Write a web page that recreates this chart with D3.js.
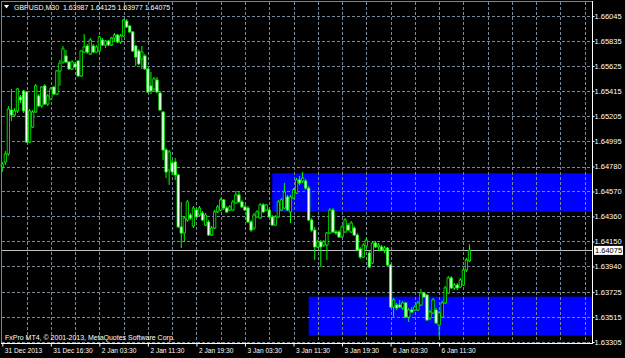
<!DOCTYPE html>
<html>
<head>
<meta charset="utf-8">
<script src="https://cdn.jsdelivr.net/npm/d3@7"></script>
<style>
html, body { margin: 0; padding: 0; background: #000; }
svg { display: block; }
text { font-family: "Liberation Sans", Arial, sans-serif; fill: #fff; }
</style>
</head>
<body>
<svg class="main" width="625" height="358"></svg>
<script>
var symbol = "GBPUSD,M30";

// M30 bars, oldest first
var opens = [
    1.64776,1.64818,1.64885,1.65255,1.65213,1.65247,1.65364,1.65415,1.65406,1.64986,
    1.65112,1.65238,1.65373,1.65289,1.65457,1.65305,1.65347,1.65448,1.65389,1.65583,
    1.65658,1.65709,1.65658,1.65600,1.65642,1.65667,1.65541,1.65742,1.65793,1.65726,
    1.65793,1.65742,1.65751,1.65843,1.65801,1.65835,1.65801,1.65860,1.65885,1.65826,
    1.65877,1.66003,1.65961,1.65911,1.65793,1.65751,1.65684,1.65709,1.65600,1.65457,
    1.65432,1.65507,1.65398,1.65238,1.64919,1.64751,1.64810,1.64818,1.64709,1.64272,
    1.64221,1.64330,1.64372,1.64280,1.64414,1.64372,1.64389,1.64288,1.64314,1.64204,
    1.64263,1.64398,1.64414,1.64499,1.64431,1.64414,1.64414,1.64473,1.64541,1.64482,
    1.64440,1.64431,1.64314,1.64263,1.64356,1.64347,1.64457,1.64414,1.64414,1.64356,
    1.64288,1.64356,1.64414,1.64431,1.64524,1.64398,1.64515,1.64557,1.64667,1.64658,
    1.64658,1.64599,1.64330,1.64246,1.64104,1.64146,1.64120,1.64120,1.64221,1.64414,
    1.64230,1.64230,1.64188,1.64230,1.64288,1.64230,1.64263,1.64204,1.64087,1.64019,
    1.64112,1.64053,1.63969,1.64137,1.64104,1.64104,1.64078,1.64095,1.63952,1.63599,
    1.63616,1.63616,1.63591,1.63633,1.63515,1.63574,1.63574,1.63574,1.63616,1.63717,
    1.63700,1.63507,1.63549,1.63574,1.63448,1.63515,1.63633,1.63717,1.63843,1.63759,
    1.63784,1.63767,1.63784,1.63910,1.63987
];
var highs = [
    1.64818,1.64910,1.65289,1.65432,1.65272,1.65440,1.65381,1.65423,1.65415,1.65263,
    1.65255,1.65474,1.65389,1.65457,1.65474,1.65389,1.65448,1.65457,1.65591,1.65675,
    1.65793,1.65759,1.65667,1.65675,1.65658,1.65675,1.65759,1.65894,1.65810,1.65860,
    1.65810,1.65801,1.65877,1.65860,1.65843,1.65843,1.65869,1.65902,1.65894,1.65894,
    1.66020,1.66020,1.65969,1.65919,1.65801,1.65768,1.65793,1.65726,1.65608,1.65574,
    1.65532,1.65532,1.65415,1.65247,1.64936,1.64919,1.64835,1.64852,1.64717,1.64482,
    1.64364,1.64499,1.64389,1.64448,1.64431,1.64448,1.64406,1.64389,1.64330,1.64280,
    1.64414,1.64457,1.64515,1.64507,1.64448,1.64457,1.64499,1.64574,1.64574,1.64499,
    1.64457,1.64448,1.64330,1.64389,1.64414,1.64473,1.64473,1.64465,1.64431,1.64372,
    1.64372,1.64499,1.64515,1.64641,1.64541,1.64541,1.64599,1.64683,1.64700,1.64734,
    1.64675,1.64616,1.64347,1.64272,1.64162,1.64162,1.64162,1.64230,1.64431,1.64431,
    1.64246,1.64246,1.64288,1.64347,1.64305,1.64322,1.64280,1.64221,1.64104,1.64137,
    1.64179,1.64070,1.64154,1.64154,1.64137,1.64120,1.64112,1.64104,1.63961,1.63675,
    1.63633,1.63658,1.63650,1.63641,1.63591,1.63599,1.63616,1.63650,1.63751,1.63725,
    1.63708,1.63574,1.63675,1.63591,1.63566,1.63650,1.63776,1.63860,1.63860,1.63801,
    1.63801,1.63843,1.63927,1.64011,1.64125
];
var lows = [
    1.64734,1.64793,1.64868,1.65163,1.65196,1.65230,1.65314,1.65230,1.64978,1.64978,
    1.65104,1.65230,1.65280,1.65272,1.65297,1.65289,1.65339,1.65381,1.65381,1.65457,
    1.65642,1.65650,1.65591,1.65591,1.65608,1.65532,1.65532,1.65734,1.65726,1.65717,
    1.65734,1.65734,1.65742,1.65793,1.65776,1.65793,1.65793,1.65835,1.65818,1.65810,
    1.65869,1.65944,1.65902,1.65742,1.65625,1.65633,1.65600,1.65591,1.65398,1.65389,
    1.65415,1.65398,1.65247,1.64835,1.64683,1.64625,1.64709,1.64667,1.64263,1.64095,
    1.64146,1.64314,1.64330,1.64263,1.64347,1.64364,1.64322,1.64280,1.64196,1.64196,
    1.64255,1.64389,1.64406,1.64414,1.64389,1.64406,1.64406,1.64465,1.64473,1.64431,
    1.64406,1.64305,1.64230,1.64246,1.64347,1.64339,1.64389,1.64406,1.64347,1.64280,
    1.64280,1.64347,1.64406,1.64423,1.64406,1.64305,1.64507,1.64549,1.64625,1.64641,
    1.64583,1.64322,1.64230,1.63994,1.64095,1.63935,1.64104,1.63994,1.64213,1.64221,
    1.64204,1.64179,1.64179,1.64221,1.64238,1.64221,1.64196,1.64070,1.64003,1.64011,
    1.64095,1.63927,1.63961,1.64095,1.64070,1.64070,1.64053,1.63944,1.63591,1.63515,
    1.63574,1.63591,1.63574,1.63507,1.63473,1.63549,1.63566,1.63566,1.63608,1.63675,
    1.63482,1.63490,1.63540,1.63456,1.63347,1.63507,1.63624,1.63708,1.63751,1.63742,
    1.63742,1.63759,1.63776,1.63893,1.63977
];
var closes = [
    1.64801,1.64885,1.65263,1.65213,1.65247,1.65432,1.65339,1.65247,1.64986,1.65247,
    1.65238,1.65457,1.65289,1.65448,1.65305,1.65373,1.65432,1.65389,1.65583,1.65650,
    1.65768,1.65658,1.65600,1.65658,1.65616,1.65541,1.65751,1.65784,1.65742,1.65843,
    1.65742,1.65784,1.65869,1.65801,1.65835,1.65801,1.65860,1.65885,1.65826,1.65877,
    1.66011,1.65953,1.65911,1.65751,1.65700,1.65642,1.65742,1.65600,1.65406,1.65415,
    1.65516,1.65406,1.65255,1.64919,1.64734,1.64902,1.64734,1.64709,1.64272,1.64221,
    1.64347,1.64482,1.64347,1.64431,1.64356,1.64431,1.64330,1.64372,1.64204,1.64263,
    1.64398,1.64440,1.64499,1.64431,1.64398,1.64440,1.64482,1.64541,1.64482,1.64440,
    1.64414,1.64314,1.64246,1.64372,1.64398,1.64457,1.64398,1.64457,1.64356,1.64288,
    1.64356,1.64482,1.64499,1.64566,1.64414,1.64524,1.64583,1.64667,1.64641,1.64683,
    1.64599,1.64330,1.64246,1.64104,1.64146,1.64104,1.64146,1.64221,1.64414,1.64230,
    1.64221,1.64188,1.64272,1.64330,1.64246,1.64305,1.64204,1.64078,1.64019,1.64120,
    1.64162,1.63935,1.64137,1.64104,1.64120,1.64078,1.64095,1.63952,1.63599,1.63658,
    1.63591,1.63599,1.63633,1.63515,1.63574,1.63557,1.63599,1.63633,1.63717,1.63683,
    1.63490,1.63557,1.63658,1.63465,1.63549,1.63633,1.63759,1.63843,1.63759,1.63784,
    1.63759,1.63826,1.63910,1.63994,1.64075
];

var timeLabels = ["31 Dec 2013", "31 Dec 16:30", "2 Jan 03:30", "2 Jan 11:30", "2 Jan 19:30",
    "3 Jan 03:30", "3 Jan 11:30", "3 Jan 19:30", "6 Jan 03:30", "6 Jan 11:30"];
var priceTicks = [1.66045, 1.65835, 1.65625, 1.65415, 1.65205, 1.64995, 1.64780,
    1.64570, 1.64360, 1.64150, 1.63940, 1.63725, 1.63515, 1.63305];

// supply / demand zones (start bar, top price, bottom price), run to the right edge
var zoneStart = [89, 101];
var zoneTop = [1.64723, 1.63686];
var zoneBottom = [1.64400, 1.63358];

var layout = {
    left: 2,
    right: 592,
    top: 2,
    bottom: 343
};

var bars = opens.map(function(o, i) {
    return { i: i, o: o, h: highs[i], l: lows[i], c: closes[i] };
});
var last = bars[bars.length - 1];
var fmt = d3.format(".5f");

var svg = d3.select(".main");

// bar index -> x, 8 bars per grid cell
var x = d3.scaleLinear().domain([0, 194.4]).range([2.3, layout.right]);
var y = d3.scaleLinear().domain([1.63305, 1.66045]).range([342, 16]);

/**
 * Zones
 */
svg.append("g").selectAll("rect")
    .data(zoneStart)
    .enter()
    .append("rect")
    .attr("x", function(d) { return x(d); })
    .attr("y", function(d, i) { return y(zoneTop[i]); })
    .attr("width", function(d) { return layout.right - x(d); })
    .attr("height", function(d, i) { return y(zoneBottom[i]) - y(zoneTop[i]); })
    .attr("fill", "#0000ff");

/**
 * Grid
 */
var grid = svg.append("g")
    .attr("stroke", "#778899")
    .attr("stroke-width", 1)
    .attr("stroke-dasharray", "3,2");

grid.selectAll(".h")
    .data(priceTicks)
    .enter()
    .append("line")
    .attr("x1", layout.left)
    .attr("x2", layout.right)
    .attr("y1", function(d) { return Math.round(y(d)) + 0.5; })
    .attr("y2", function(d) { return Math.round(y(d)) + 0.5; });

grid.selectAll(".v")
    .data(d3.range(8, 195, 8))
    .enter()
    .append("line")
    .attr("x1", function(d) { return Math.round(x(d)) + 0.5; })
    .attr("x2", function(d) { return Math.round(x(d)) + 0.5; })
    .attr("y1", layout.top)
    .attr("y2", layout.bottom);

// bid line
svg.append("line")
    .attr("x1", layout.left)
    .attr("x2", layout.right)
    .attr("y1", Math.round(y(last.c)) + 0.5)
    .attr("y2", Math.round(y(last.c)) + 0.5)
    .attr("stroke", "#c0c0c0")
    .attr("stroke-width", 1);

/**
 * Candles
 */
var candle = svg.append("g").selectAll("g")
    .data(bars)
    .enter()
    .append("g");

candle.append("line")
    .attr("x1", function(d) { return x(d.i); })
    .attr("x2", function(d) { return x(d.i); })
    .attr("y1", function(d) { return y(d.h); })
    .attr("y2", function(d) { return y(d.l); })
    .attr("stroke", "#00ff00")
    .attr("stroke-width", 1);

candle.append("rect")
    .attr("x", function(d) { return x(d.i) - 1.2; })
    .attr("y", function(d) { return y(Math.max(d.o, d.c)); })
    .attr("width", 2.4)
    .attr("height", function(d) { return Math.max(Math.abs(y(d.o) - y(d.c)), 0.8); })
    .attr("fill", function(d) { return d.c < d.o ? "#ffffff" : "#000000"; })
    .attr("stroke", "#00ff00")
    .attr("stroke-width", 0.8);

/**
 * Frame
 */
svg.append("line").attr("x1", layout.left).attr("x2", layout.right)
    .attr("y1", 1.5).attr("y2", 1.5).attr("stroke", "#808080");
svg.append("line").attr("x1", 1.5).attr("x2", 1.5)
    .attr("y1", 1).attr("y2", layout.bottom).attr("stroke", "#808080");
svg.append("line").attr("x1", layout.right + 0.5).attr("x2", layout.right + 0.5)
    .attr("y1", 1).attr("y2", layout.bottom + 1).attr("stroke", "#ffffff");
svg.append("line").attr("x1", 1).attr("x2", layout.right + 1)
    .attr("y1", layout.bottom + 0.5).attr("y2", layout.bottom + 0.5).attr("stroke", "#ffffff");

/**
 * Axes
 */
var yAxis = d3.axisRight(y)
    .tickValues(priceTicks)
    .tickFormat(fmt)
    .tickSize(2)
    .tickPadding(0);

var yg = svg.append("g")
    .attr("transform", "translate(" + (layout.right + 0.5) + ",0)")
    .call(yAxis);
yg.select(".domain").remove();
yg.selectAll("line").attr("stroke", "#ffffff");
yg.selectAll("text").style("font-size", "7.5px").style("fill", "#ffffff")
    .attr("font-family", null);

var xAxis = d3.axisBottom(x)
    .tickValues(d3.range(0, timeLabels.length * 16, 16))
    .tickFormat(function(d, i) { return timeLabels[i]; })
    .tickSize(3)
    .tickPadding(2);

var xg = svg.append("g")
    .attr("transform", "translate(0," + (layout.bottom + 0.5) + ")")
    .call(xAxis);
xg.select(".domain").remove();
xg.selectAll("line").attr("stroke", "#ffffff");
xg.selectAll("text")
    .attr("text-anchor", "start")
    .attr("x", 2)
    .style("font-size", "6.6px")
    .style("fill", "#ffffff")
    .attr("font-family", null);

// last price label
var lastY = y(last.c);
svg.append("rect")
    .attr("x", layout.right + 2)
    .attr("y", lastY - 4.5)
    .attr("width", 29)
    .attr("height", 9)
    .attr("fill", "#ffffff");
svg.append("text")
    .attr("x", layout.right + 3)
    .attr("y", lastY + 2.7)
    .style("font-size", "7.5px")
    .style("fill", "#000000")
    .text(fmt(last.c));

/**
 * Labels
 */
svg.append("path")
    .attr("d", "M4,5 L9,5 L6.5,8.5 Z")
    .attr("fill", "#ffffff");

svg.append("text")
    .attr("x", 14)
    .attr("y", 10)
    .style("font-size", "7px")
    .attr("xml:space", "preserve")
    .text(symbol + "  " + [last.o, last.h, last.l, last.c].map(fmt).join(" "));

svg.append("text")
    .attr("x", 5)
    .attr("y", 340)
    .style("font-size", "7px")
    .text("FxPro MT4, \u00a9 2001-2013, MetaQuotes Software Corp.");
</script>
</body>
</html>
